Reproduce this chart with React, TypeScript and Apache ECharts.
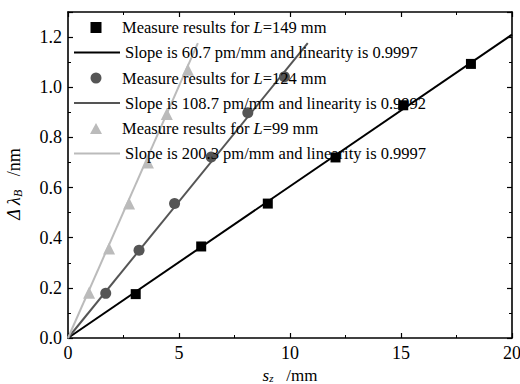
import React, { useEffect, useRef } from "react";
import * as echarts from "echarts";

const nameM149 = "Measure results for L=149 mm";
const nameF149 = "Slope is 60.7 pm/mm and linearity is 0.9997";
const nameM124 = "Measure results for L=124 mm";
const nameF124 = "Slope is 108.7 pm/mm and linearity is 0.9992";
const nameM99 = "Measure results for L=99 mm";
const nameF99 = "Slope is 200.3 pm/mm and linearity is 0.9997";

const pts149: [number, number][] = [
  [3.05, 0.175], [6.0, 0.365], [9.0, 0.536], [12.05, 0.72], [15.1, 0.928], [18.15, 1.093],
];
const pts124: [number, number][] = [
  [1.7, 0.178], [3.2, 0.35], [4.8, 0.536], [6.45, 0.722], [8.1, 0.898], [9.75, 1.042],
];
const pts99: [number, number][] = [
  [0.95, 0.18], [1.85, 0.357], [2.75, 0.536], [3.6, 0.70], [4.45, 0.893], [5.4, 1.07],
];
const fit149: [number, number][] = [[0, 0], [20, 1.21]];
const fit124: [number, number][] = [[0, 0], [10.8, 1.176]];
const fit99: [number, number][] = [[0, 0], [5.85, 1.176]];

const FONT = "Liberation Serif";
const BLACK = "#000000";
const DARK = "#555555";
const LIGHT = "#bbbbbb";

const ICON_SQUARE = "path://M0,0H10V10H0Z";
const ICON_CIRCLE = "path://M5,0A5,5,0,1,1,5,10A5,5,0,1,1,5,0Z";
const ICON_TRIANGLE = "path://M6,0L12,11L0,11Z";

function richName(name: string): string {
  const m = name.match(/^(.*for )L(=.*)$/);
  if (m) return `{n|${m[1]}}{i|L}{n|${m[2]}}`;
  return `{n|${name}}`;
}

const LFS = 16.5;
const legendRich = {
  n: { fontFamily: FONT, fontSize: LFS, lineHeight: 16, color: "#000" },
  i: { fontFamily: FONT, fontSize: LFS, lineHeight: 16, fontStyle: "italic", color: "#000" },
};
const tickRich = { t: { fontFamily: FONT, fontSize: 18, color: "#000" } };

export default function App() {
  const ref = useRef<HTMLDivElement>(null);
  useEffect(() => {
    if (!ref.current) return;
    const chart = echarts.init(ref.current, undefined, { renderer: "svg" });
    const axisCommon = {
      axisLine: { show: true, onZero: false, lineStyle: { color: "#000", width: 1.6 } },
      axisTick: { show: true, inside: true, length: 5, lineStyle: { color: "#000", width: 1.2 } },
      minorTick: { show: true, splitNumber: 2, length: 3, lineStyle: { color: "#000", width: 1 } },
      splitLine: { show: false },
    };
    const xNameRich = {
      i: { fontFamily: FONT, fontSize: 17, lineHeight: 17, fontStyle: "italic", color: "#000" },
      sub: { fontFamily: FONT, fontSize: 11, lineHeight: 11, fontStyle: "italic", color: "#000", padding: [5, 0, 0, 0] },
      n: { fontFamily: FONT, fontSize: 17, lineHeight: 17, color: "#000" },
    };
    const yNameRich = {
      i: { fontFamily: FONT, fontSize: 18, fontStyle: "italic", color: "#000" },
      sub: { fontFamily: FONT, fontSize: 12, fontStyle: "italic", color: "#000", padding: [9, 0, 0, 0] },
      n: { fontFamily: FONT, fontSize: 18, color: "#000", padding: [0, 18, 0, 0] },
    };
    chart.setOption({
      animation: false,
      backgroundColor: "#fff",
      textStyle: { fontFamily: FONT },
      grid: { left: 68, right: 8, top: 12, bottom: 46, containLabel: false, outerBoundsMode: "none" },
      legend: [
        {
          orient: "vertical",
          left: 90,
          top: 19,
          padding: 0,
          itemWidth: 42,
          itemHeight: 11,
          itemGap: 33.5,
          selectedMode: false,
          data: [
            { name: nameM149, icon: ICON_SQUARE },
            { name: nameM124, icon: ICON_CIRCLE },
            { name: nameM99, icon: ICON_TRIANGLE },
          ],
          formatter: richName,
          textStyle: { fontFamily: FONT, fontSize: LFS, lineHeight: 16, rich: legendRich },
        },
        {
          orient: "vertical",
          left: 74,
          top: 44,
          padding: 0,
          itemWidth: 46,
          itemHeight: 2,
          itemGap: 33.5,
          selectedMode: false,
          data: [
            { name: nameF149, icon: "rect" },
            { name: nameF124, icon: "rect" },
            { name: nameF99, icon: "rect" },
          ],
          formatter: richName,
          textStyle: { fontFamily: FONT, fontSize: LFS, lineHeight: 16, rich: legendRich },
        },
      ],
      xAxis: [
        {
          type: "value",
          min: 0,
          max: 20,
          interval: 5,
          position: "bottom",
          ...axisCommon,
          axisLabel: {
            fontFamily: FONT, fontSize: 18, color: "#000", margin: 6,
            formatter: (v: number) => `{t|${v}}`, rich: tickRich,
          },
          name: "{i|s}{sub|z}{n|   /mm}",
          nameLocation: "middle",
          nameGap: 19,
          nameTextStyle: { rich: xNameRich },
        },
        {
          type: "value",
          min: 0,
          max: 20,
          interval: 5,
          position: "top",
          ...axisCommon,
          axisLabel: { show: false },
        },
      ],
      yAxis: [
        {
          type: "value",
          min: 0,
          max: 1.3,
          interval: 0.2,
          position: "left",
          ...axisCommon,
          axisLabel: {
            fontFamily: FONT, fontSize: 18, color: "#000", margin: 6,
            formatter: (v: number) => (v > 1.25 ? "" : `{t|${v.toFixed(1)}}`),
            rich: tickRich,
          },
          name: "{i|Δ λ}{sub|B}{n|   /nm}",
          nameLocation: "middle",
          nameGap: 44,
          nameTextStyle: { rich: yNameRich },
        },
        {
          type: "value",
          min: 0,
          max: 1.3,
          interval: 0.2,
          position: "right",
          ...axisCommon,
          axisLabel: { show: false },
        },
      ],
      series: [
        {
          name: nameF149, type: "line", data: fit149, symbol: "none",
          lineStyle: { color: BLACK, width: 2 }, itemStyle: { color: BLACK }, z: 2,
        },
        {
          name: nameF124, type: "line", data: fit124, symbol: "none",
          lineStyle: { color: DARK, width: 2 }, itemStyle: { color: DARK }, z: 2,
        },
        {
          name: nameF99, type: "line", data: fit99, symbol: "none",
          lineStyle: { color: LIGHT, width: 2 }, itemStyle: { color: LIGHT }, z: 2,
        },
        {
          name: nameM149, type: "scatter", data: pts149, symbol: "rect", symbolSize: 10,
          itemStyle: { color: BLACK, opacity: 1 }, z: 3,
        },
        {
          name: nameM124, type: "scatter", data: pts124, symbol: "circle", symbolSize: 11,
          itemStyle: { color: DARK, opacity: 1 }, z: 3,
        },
        {
          name: nameM99, type: "scatter", data: pts99, symbol: "triangle", symbolSize: 12,
          itemStyle: { color: LIGHT, opacity: 1 }, z: 3,
        },
      ],
    });
    return () => chart.dispose();
  }, []);
  return <div ref={ref} style={{ width: 520, height: 384, position: "fixed", left: 0, top: 0 }} />;
}
